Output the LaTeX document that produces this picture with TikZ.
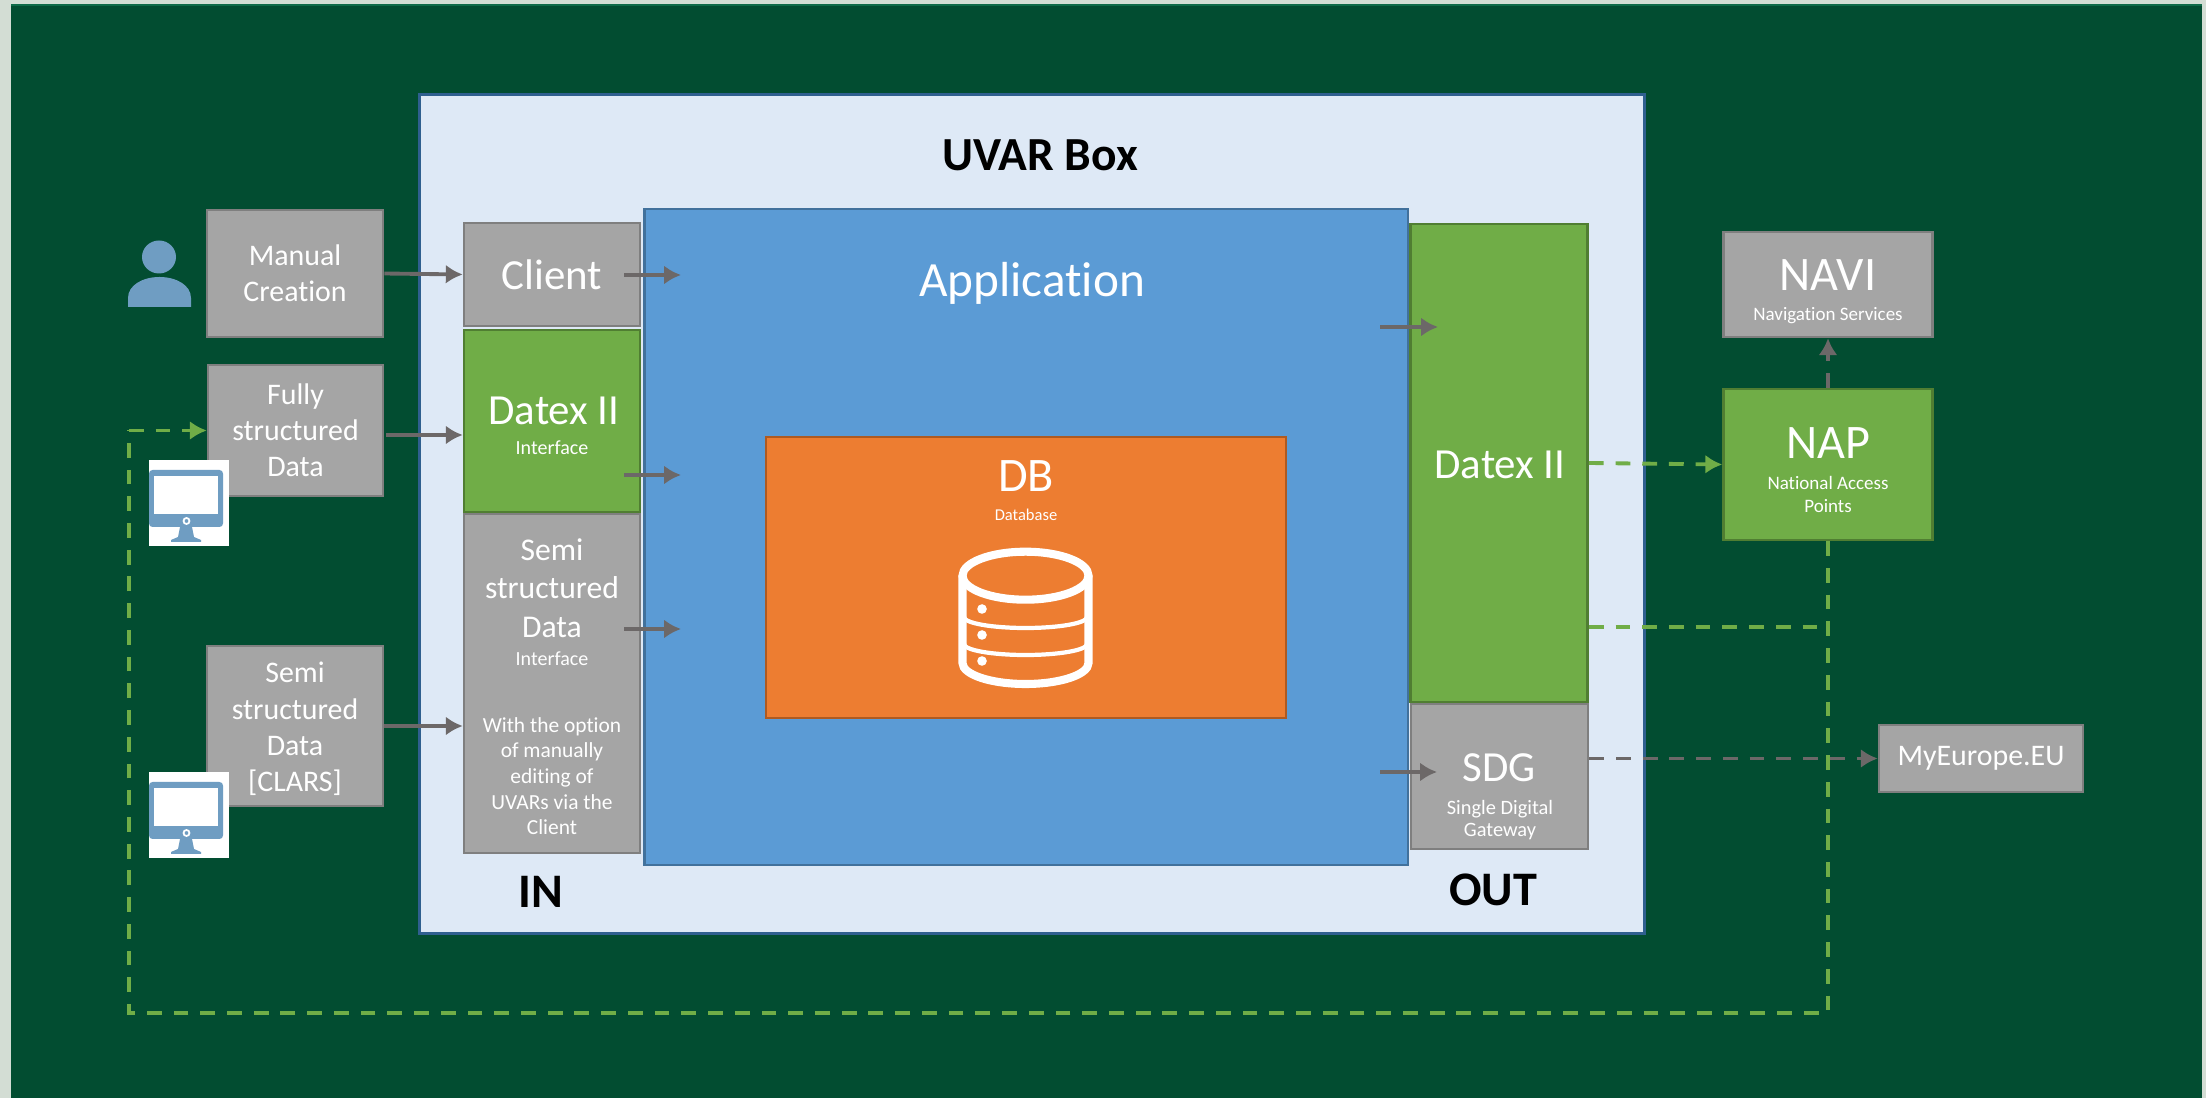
\documentclass[tikz,border=0pt]{standalone}
\usepackage{fontspec}
\setmainfont{Carlito}[Ligatures=NoCommon]
\usetikzlibrary{positioning,arrows.meta}

\definecolor{outerbg}{HTML}{D3DDD4}
\definecolor{panelbg}{HTML}{024D31}
\definecolor{paneltop}{HTML}{0F6A48}
\definecolor{boxgrey}{HTML}{A5A5A5}
\definecolor{linegrey}{HTML}{7F7F7F}
\definecolor{boxgreen}{HTML}{70AD47}
\definecolor{linegreen}{HTML}{507E32}
\definecolor{boxblue}{HTML}{5B9BD5}
\definecolor{lineblue}{HTML}{41719C}
\definecolor{boxorange}{HTML}{ED7D31}
\definecolor{lineorange}{HTML}{AE5A21}
\definecolor{uvarfill}{HTML}{DEE9F6}
\definecolor{uvarline}{HTML}{2F5F8F}
\definecolor{arrowgrey}{HTML}{6C6868}
\definecolor{iconblue}{HTML}{6F9DC2}

\newcommand{\sizeH}{\fontsize{13.7}{15.5}\selectfont}
\newcommand{\sizeA}{\fontsize{14}{16}\selectfont}
\newcommand{\sizeL}{\fontsize{12.2}{14}\selectfont}
\newcommand{\sizeD}{\fontsize{12.2}{14}\selectfont}
\newcommand{\sizeM}{\fontsize{9}{11}\selectfont}
\newcommand{\sizeN}{\fontsize{8.5}{10.3}\selectfont}
\newcommand{\sizeS}{\fontsize{6.1}{7.3}\selectfont}
\newcommand{\sizeI}{\fontsize{5.7}{7}\selectfont}
\newcommand{\sizeT}{\fontsize{5.4}{6.3}\selectfont}

\tikzset{
  box/.style={rectangle, line width=0.7pt, text=white, align=center, inner sep=0pt},
  greybox/.style={box, fill=boxgrey, draw=linegrey},
  greenbox/.style={box, fill=boxgreen, draw=linegreen},
  boxtext/.style={text=white, align=center, inner sep=0pt},
  title/.style={text=black, inner sep=0pt},
  tip/.style={-{Latex[length=4.8pt,width=5.4pt]}},
  flow/.style={tip, arrowgrey, line width=1.1pt},
  greydash/.style={flow, dash pattern=on 4.2pt off 3.4pt},
  greendash/.style={boxgreen, line width=0.9pt, dash pattern=on 4.2pt off 3.4pt},
}

\newcommand{\monitoricon}[2]{
  \begin{scope}[shift={(#1,#2)}]
    \fill[white] (0,0) rectangle (80,86);
    \fill[iconblue, rounded corners=1pt] (0,10) rectangle (74,67);
    \fill[white] (5,16) rectangle (69,54);
    \fill[iconblue] (31,67) -- (43,67) -- (45,77) -- (52,80) -- (52,82) -- (22,82) -- (22,80) -- (29,77) -- cycle;
    \draw[white, line width=0.5pt] (37.5,61) circle (3);
  \end{scope}
}

\begin{document}
\begin{tikzpicture}[x=0.01cm, y=-0.01cm]

\useasboundingbox (0,0) rectangle (2206,1098);
\fill[outerbg] (0,0) rectangle (2206,1098);
\fill[panelbg] (11,4) rectangle (2202,1098);
\fill[paneltop] (11,4) rectangle (2202,6);

\node[rectangle, fill=uvarfill, draw=uvarline, line width=0.9pt, minimum width=12.24cm, minimum height=8.38cm] (uvar) at (1032,514) {};
\node[box, fill=boxblue, draw=lineblue, minimum width=7.63cm, minimum height=6.56cm] (app) at (1026,537) {};
\node[box, fill=boxorange, draw=lineorange, minimum width=5.2cm, minimum height=2.81cm] (db) at (1026,577.5) {};

\node[title, font=\bfseries\fontsize{13.5}{15}\selectfont] (uvartitle) at (1040,155) {UVAR Box};
\node[title, font=\bfseries\sizeH] (intitle) at (541,892) {IN};
\node[title, font=\bfseries\sizeH] (outtitle) at (1493,890) {OUT};

\node[boxtext, font=\sizeA] (apptitle) at (1032,283) {Application};
\node[boxtext, font=\sizeH] (dbtitle) at (1026,476) {DB};
\node[boxtext, font=\fontsize{4.7}{5}\selectfont] (dbsub) at (1026,515) {Database};

% database icon
\draw[white, line width=2.3pt] (1025.5,575.7) ellipse [x radius=63, y radius=24];
\draw[white, line width=2.3pt] (962.5,575.7) -- (962.5,663) arc[start angle=180, end angle=0, x radius=63, y radius=21] -- (1088.5,575.7);
\draw[white, line width=1.2pt] (964,617) arc[start angle=180, end angle=0, x radius=61.5, y radius=11];
\draw[white, line width=1.2pt] (964,644) arc[start angle=180, end angle=0, x radius=61.5, y radius=11];
\fill[white] (982,609) circle (4.8);
\fill[white] (982,635) circle (4.8);
\fill[white] (982,661) circle (4.8);

% IN column
\node[greybox, font=\sizeL, minimum width=1.76cm, minimum height=1.03cm] (client) at (552,274.5) {Client};
\node[greenbox, minimum width=1.76cm, minimum height=1.82cm] (datexin) at (552,421) {};
\node[boxtext, font=\sizeD] (datexintxt) at (554,411) {Datex II};
\node[boxtext, font=\sizeI] (datexinsub) at (552,448) {Interface};
\node[greybox, minimum width=1.76cm, minimum height=3.39cm] (semiin) at (552,683.5) {};
\node[boxtext, font=\sizeM] (semiintxt) at (552,588) {Semi\\structured\\Data};
\node[boxtext, font=\sizeI] (semiinsub) at (552,659) {Interface};
\node[boxtext, font=\sizeS] (semiinnote) at (552,776) {With the option\\of manually\\editing of\\UVARs via the\\Client};

% OUT column
\node[greenbox, minimum width=1.77cm, minimum height=4.78cm] (datexout) at (1499,463) {};
\node[boxtext, font=\sizeD] (datexouttxt) at (1500,465) {Datex II};
\node[greybox, minimum width=1.77cm, minimum height=1.45cm] (sdg) at (1499.5,776.5) {};
\node[boxtext, font=\sizeL] (sdgtxt) at (1499,768) {SDG};
\node[boxtext, font=\fontsize{5.8}{6.3}\selectfont] (sdgsub) at (1500,820) {Single Digital\\Gateway};

% sources
\node[greybox, font=\sizeN, minimum width=1.76cm, minimum height=1.27cm] (manual) at (295,273.5) {Manual\\Creation};
\node[greybox, font=\sizeN, minimum width=1.75cm, minimum height=1.31cm] (fully) at (295.5,430.5) {Fully\\structured\\Data};
\node[greybox, minimum width=1.76cm, minimum height=1.6cm] (clars) at (295,726) {};
\node[boxtext, font=\sizeN] (clarstxt) at (295,729) {Semi\\structured\\Data\\{}[CLARS]};

% targets
\node[greybox, minimum width=2.09cm, minimum height=1.05cm] (navi) at (1828,284.5) {};
\node[boxtext, font=\sizeH] (navitxt) at (1828,275) {NAVI};
\node[boxtext, font=\sizeT] (navisub) at (1828,316) {Navigation Services};
\node[greenbox, minimum width=2.09cm, minimum height=1.51cm] (nap) at (1828,464.5) {};
\node[boxtext, font=\sizeH] (naptxt) at (1828,443) {NAP};
\node[boxtext, font=\sizeT] (napsub) at (1828,494.5) {National Access\\Points};
\node[greybox, font=\sizeN, minimum width=2.04cm, minimum height=0.67cm] (myeu) at (1981,758.5) {MyEurope.EU};

% person
\fill[iconblue] (159,257) ellipse [x radius=17, y radius=16.5];
\fill[iconblue] (128,307) -- (128,298) .. controls (128,285) and (143,277) .. (159.5,277) .. controls (176,277) and (191,285) .. (191,298) -- (191,307) -- cycle;

\coordinate (loopright) at (1828,1013);
\coordinate (loopleft) at (129,1013);
\coordinate (feedin) at (1828,627);

% feedback loop
\draw[greendash] (nap.south) -- (loopright) -- (loopleft) -- (loopleft |- fully.west);
\draw[greendash, tip, line width=1.1pt] (loopleft |- fully.west) -- (fully.west);
\draw[greendash, line width=1.1pt] (datexout.east |- feedin) -- (feedin);
\draw[greendash, tip, line width=1.1pt] (datexout.east) -- (nap.west);

\monitoricon{149}{460}
\monitoricon{149}{772}

\coordinate (fullyout) at (386,435);
\coordinate (inappA) at (681,275);
\coordinate (outappA) at (624,275);
\coordinate (inappB) at (681,475);
\coordinate (outappB) at (624,475);
\coordinate (inappC) at (681,629);
\coordinate (outappC) at (624,629);
\coordinate (outdatex) at (1380,327);
\coordinate (indatex) at (1438,327);
\coordinate (outsdg) at (1380,772);
\coordinate (insdg) at (1437,772);

\draw[flow] (manual.east) -- (client.west);
\draw[flow] (fullyout) -- (fullyout -| datexin.west);
\draw[flow] (clars.east) -- (clars.east -| semiin.west);
\draw[flow] (outappA) -- (inappA);
\draw[flow] (outappB) -- (inappB);
\draw[flow] (outappC) -- (inappC);
\draw[flow] (outdatex) -- (indatex);
\draw[flow] (outsdg) -- (insdg);

\draw[greydash] (sdg.east |- myeu.west) -- (myeu.west);
\draw[greydash] (nap.north) -- (navi.south);

\end{tikzpicture}
\end{document}
